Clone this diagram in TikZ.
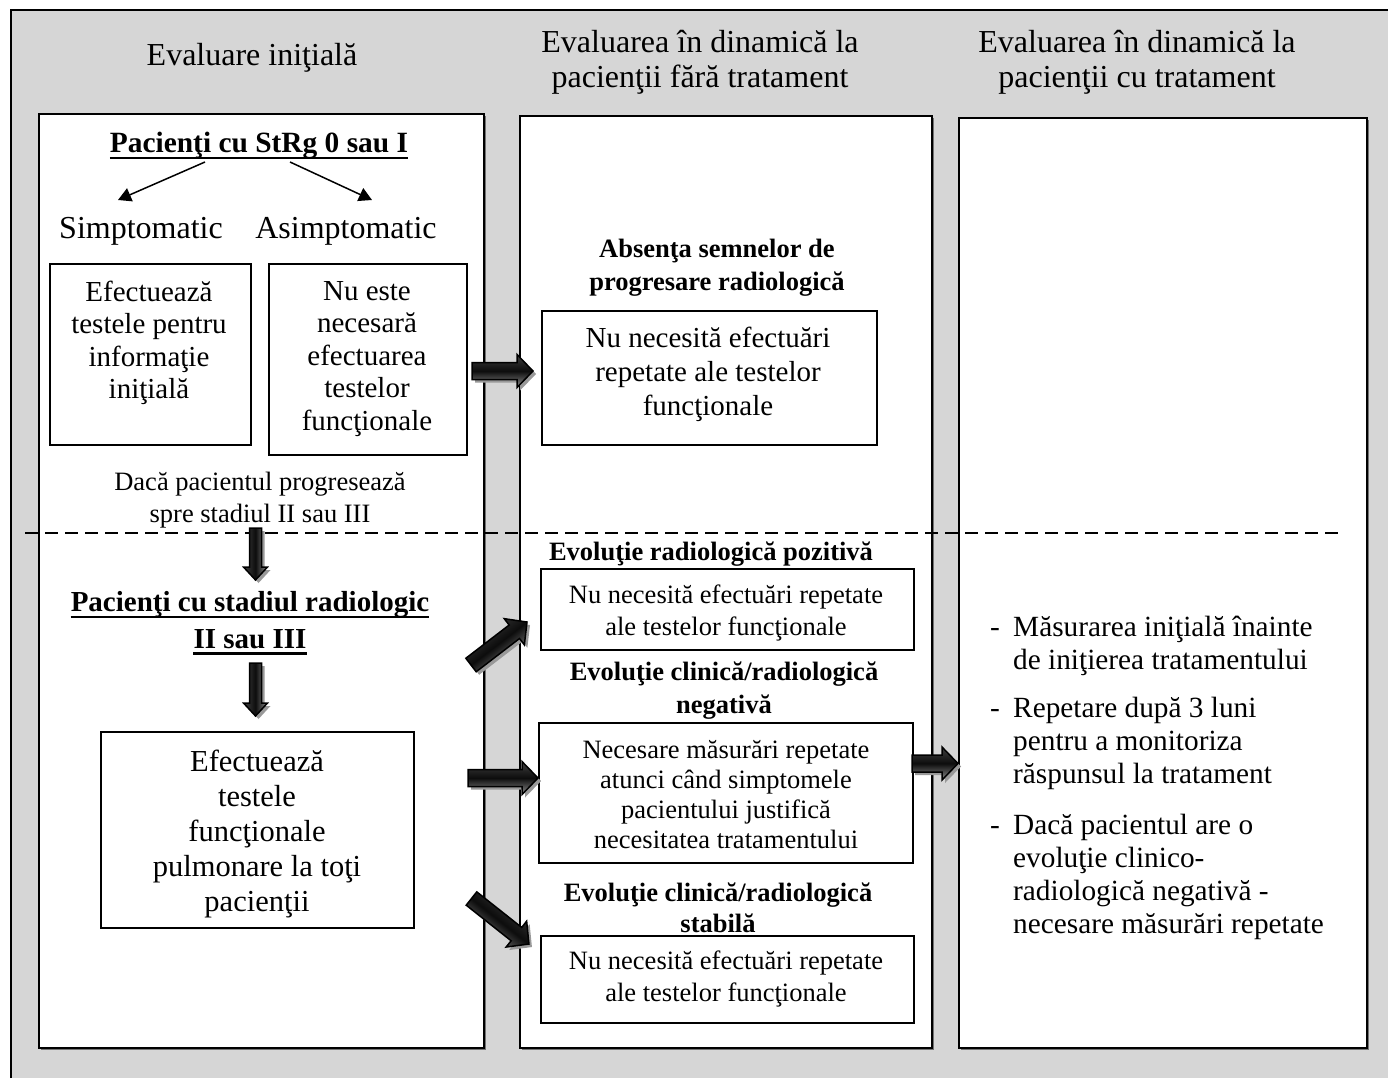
\documentclass[tikz,border=0pt]{standalone}
\usepackage{fontspec}
\setmainfont{Liberation Serif}
\usetikzlibrary{arrows.meta,calc,shadows}
\definecolor{bg}{RGB}{214,214,214}
\tikzset{
  ltxt/.style 2 args={font=\fontsize{#1}{#2}\selectfont, align=left, inner sep=0pt, anchor=north west},
  txt/.style 2 args={font=\fontsize{#1}{#2}\selectfont, align=center, inner sep=0pt, yshift=-3pt},
  btxt/.style 2 args={font=\fontsize{#1}{#2}\selectfont\bfseries, align=center, inner sep=0pt, yshift=-3pt},
  colbox/.style={draw=black, line width=2pt, fill=white, anchor=north west, inner sep=0pt,
    drop shadow={shadow xshift=2pt, shadow yshift=-2pt, fill=black!55, opacity=1}},
  box/.style={draw=black, line width=1.5pt, fill=white, anchor=north west, inner sep=0pt},
  thinarr/.style={line width=1.5pt, -{Triangle[length=13pt,width=14pt]}},
  uline/.style={line width=2.5pt},
  dashline/.style={line width=1.8pt, dash pattern=on 13pt off 7pt},
  arrshadow/.style={fill=black!40},
  arrbody/.style={draw=black, line width=1.5pt, top color=black!75, bottom color=black!45, middle color=black!95}
}
% #1 tail coordinate, #2 angle, #3 length, #4 shaft half width, #5 head half width, #6 head length, #7 shading angle
\newcommand\blockarrow[7]{%
  \begin{scope}[shift={($(#1)+(3,3)$)}, rotate=#2]
    \fill[arrshadow] (0,-#4) -- ({#3-#6},-#4) -- ({#3-#6},-#5) -- (#3,0) -- ({#3-#6},#5) -- ({#3-#6},#4) -- (0,#4) -- cycle;
  \end{scope}
  \begin{scope}[shift={(#1)}, rotate=#2]
    \shade[arrbody, shading angle=#7] (0,-#4) -- ({#3-#6},-#4) -- ({#3-#6},-#5) -- (#3,0) -- ({#3-#6},#5) -- ({#3-#6},#4) -- (0,#4) -- cycle;
  \end{scope}}
\begin{document}
\begin{tikzpicture}[x=1pt,y=-1pt]
\useasboundingbox (0,0) rectangle (1388,1078);
\fill[bg] (11,10) rectangle (1388,1078);
\draw[line width=2pt] (11,1078) -- (11,10) -- (1388,10);

% column headers
\node[txt={32}{35}] (h1) at (252,55) {Evaluare iniţială};
\node[txt={32}{35}] (h2) at (700,59) {Evaluarea în dinamică la\\pacienţii fără tratament};
\node[txt={32}{35}] (h3) at (1137,59) {Evaluarea în dinamică la\\pacienţii cu tratament};

% column boxes
\node[colbox, minimum width=445pt, minimum height=934pt] (c1) at (38,113) {};
\node[colbox, minimum width=412pt, minimum height=932pt] (c2) at (519,115) {};
\node[colbox, minimum width=408pt, minimum height=930pt] (c3) at (958,117) {};

% ---- column 1
\node[btxt={29.4}{33}] (p1) at (259,143) {Pacienţi cu StRg 0 sau I};
\draw[uline] ([yshift=-5pt]p1.base west) -- ([yshift=-5pt]p1.base east);
\node[txt={32}{35}] (sim) at (141,228) {Simptomatic};
\node[txt={32}{35}] (asim) at (346,228) {Asimptomatic};
\coordinate (a1s) at (205,162);
\coordinate (a1e) at (118,200);
\coordinate (a2s) at (290,162);
\coordinate (a2e) at (372,200);
\draw[thinarr] (a1s) -- (a1e);
\draw[thinarr] (a2s) -- (a2e);

\node[box, minimum width=201pt, minimum height=181pt] (bA) at (49,263) {};
\node[txt={29}{32.5}] (tA) at (149,340) {Efectuează\\testele pentru\\informaţie\\iniţială};
\node[box, minimum width=198pt, minimum height=191pt] (bB) at (268,263) {};
\node[txt={29}{32.5}] (tB) at (367,356) {Nu este\\necesară\\efectuarea\\testelor\\funcţionale};

\node[txt={26.5}{32}] (dac) at (260,497) {Dacă pacientul progresează\\spre stadiul II sau III};

\coordinate (dl) at (25,533);
\coordinate (dr) at (1340,533);
\draw[dashline] (dl) -- (dr);

\node[btxt={29}{34}] (p2a) at (250,602) {Pacienţi cu stadiul radiologic};
\draw[uline] ([yshift=-5pt]p2a.base west) -- ([yshift=-5pt]p2a.base east);
\node[btxt={29}{34}] (p2b) at (250,636) {II sau III};
\draw[uline] ([yshift=-5pt]p2b.base west) -- ([yshift=-5pt]p2b.base east);

\node[box, minimum width=313pt, minimum height=196pt] (bC) at (100,731) {};
\node[txt={30.5}{35}] (tC) at (257,831) {Efectuează\\testele\\funcţionale\\pulmonare la toţi\\pacienţii};

% ---- column 2
\node[btxt={26.5}{33}] (hd1) at (717,265) {Absenţa semnelor de\\progresare radiologică};
\node[box, minimum width=335pt, minimum height=134pt] (bD) at (541,310) {};
\node[txt={29}{34}] (tD) at (708,371) {Nu necesită efectuări\\repetate ale testelor\\funcţionale};

\node[btxt={26.5}{33}] (hd2) at (711,551) {Evoluţie radiologică pozitivă};
\node[box, minimum width=373pt, minimum height=81pt] (bE) at (540,568) {};
\node[txt={26.5}{32}] (tE) at (726,610) {Nu necesită efectuări repetate\\ale testelor funcţionale};

\node[btxt={26.5}{33}] (hd3) at (724,688) {Evoluţie clinică/radiologică\\negativă};
\node[box, minimum width=374pt, minimum height=140pt] (bF) at (538,722) {};
\node[txt={26.5}{30}] (tF) at (726,792) {Necesare măsurări repetate\\atunci când simptomele\\pacientului justifică\\necesitatea tratamentului};

\node[btxt={26.5}{31}] (hd4) at (718,905) {Evoluţie clinică/radiologică\\stabilă};
\node[box, minimum width=373pt, minimum height=87pt] (bG) at (540,935) {};
\node[txt={26.5}{32}] (tG) at (726,976) {Nu necesită efectuări repetate\\ale testelor funcţionale};

% ---- column 3
\node[ltxt={29.3}{33}] (i1) at (1013,613) {\strut Măsurarea iniţială înainte\\de iniţierea tratamentului};
\node[ltxt={29.3}{33}] (d1) at (990,613) {\strut -};
\node[ltxt={29.3}{33}] (i2) at (1013,694) {\strut Repetare după 3 luni\\pentru a monitoriza\\răspunsul la tratament};
\node[ltxt={29.3}{33}] (d2) at (990,694) {\strut -};
\node[ltxt={29.3}{33}] (i3) at (1013,811) {\strut Dacă pacientul are o\\evoluţie clinico-\\radiologică negativă -\\necesare măsurări repetate};
\node[ltxt={29.3}{33}] (d3) at (990,811) {\strut -};

% ---- block arrows
\coordinate (ba1) at (472,371);
\coordinate (ba2) at (471,665);
\coordinate (ba3) at (468,778);
\coordinate (ba4) at (471.5,898.5);
\coordinate (ba5) at (912,763.5);
\coordinate (bd1) at (255.5,528);
\coordinate (bd2) at (255.5,663);
\blockarrow{ba1}{0}{61}{8.5}{16.5}{16}{0}
\blockarrow{ba2}{37.5}{70.6}{8.5}{16.5}{16}{37.5}
\blockarrow{ba3}{0}{70}{8.5}{16.5}{16}{0}
\blockarrow{ba4}{-38.4}{73.3}{8.5}{16.5}{16}{-38.4}
\blockarrow{ba5}{0}{46}{8.5}{16.5}{16}{0}
\blockarrow{bd1}{-90}{52}{6}{12}{13}{90}
\blockarrow{bd2}{-90}{53}{6}{12}{13}{90}
\end{tikzpicture}
\end{document}
